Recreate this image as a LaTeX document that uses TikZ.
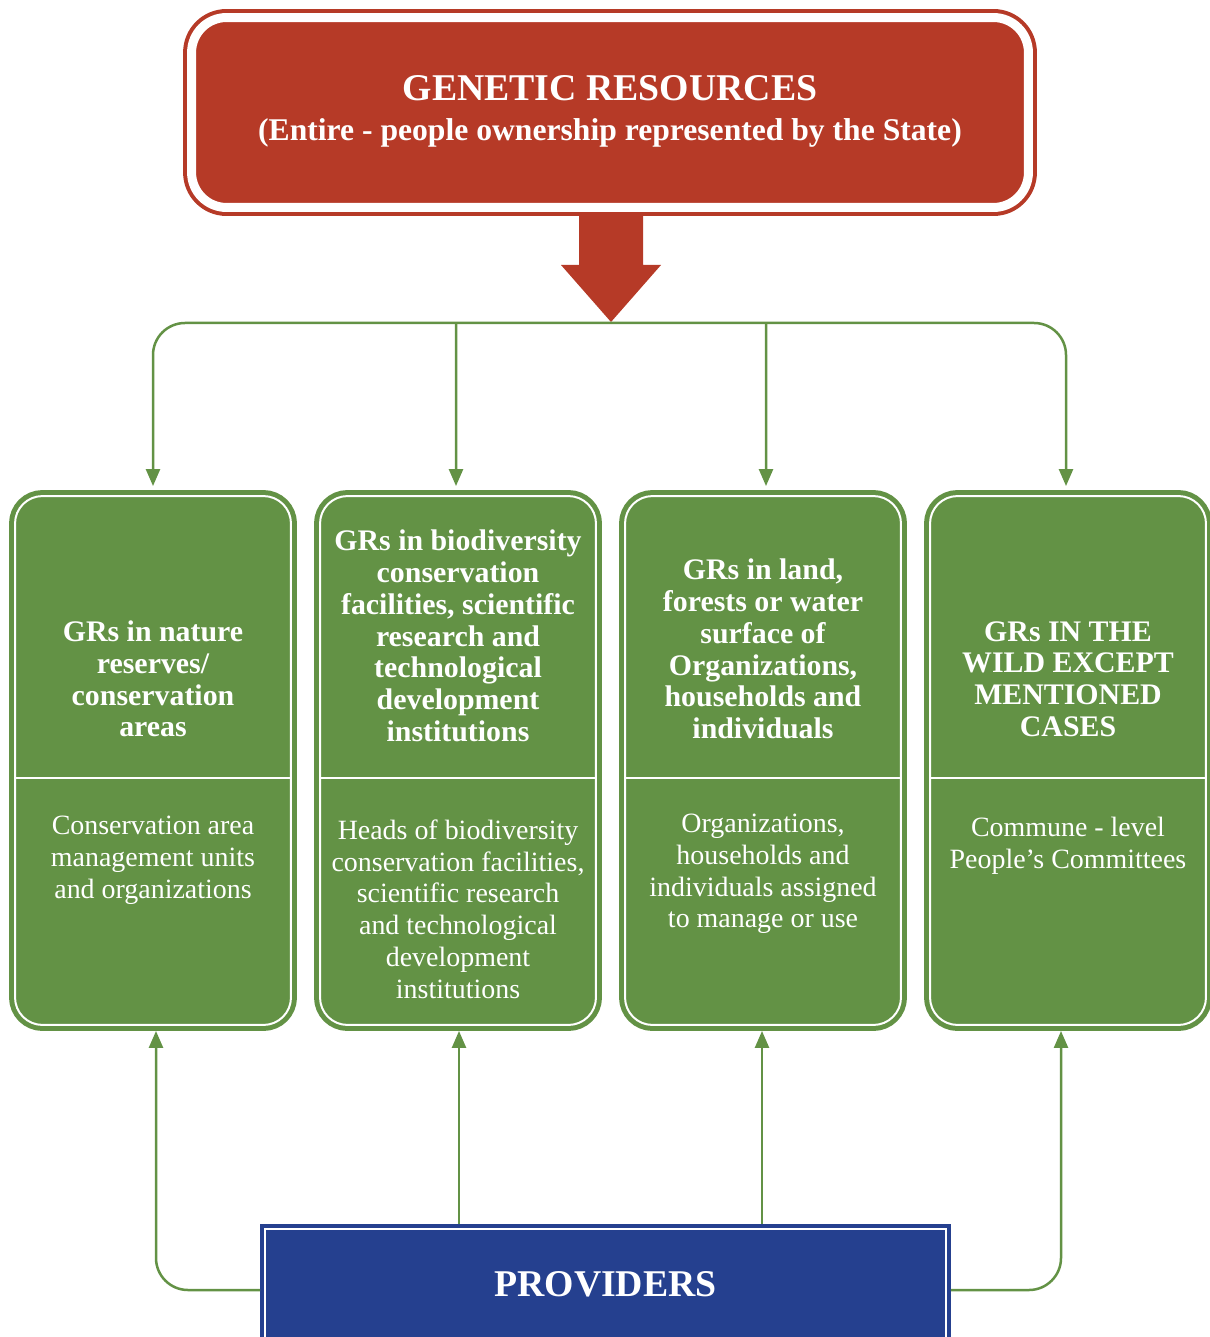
\documentclass[tikz,border=0pt]{standalone}
\usepackage{fontspec}
\setmainfont{Liberation Serif}
\usetikzlibrary{arrows.meta,calc}
\definecolor{grred}{RGB}{182,58,39}
\definecolor{grgreen}{RGB}{99,146,69}
\definecolor{grblue}{RGB}{37,64,143}

\begin{document}
\begin{tikzpicture}[x=0.02cm, y=-0.02cm,
rootbox/.style={fill=grred, draw=grred, line width=0.08cm, double=white, double distance=0.18cm, rounded corners=0.7cm, minimum width=16.74cm, minimum height=3.8cm, inner sep=0pt, outer sep=0pt},
holderbox/.style={fill=grgreen, draw=grgreen, line width=0.1cm, double=white, double distance=0.04cm, rounded corners=0.55cm, minimum width=5.52cm, minimum height=10.58cm, inner sep=0pt, outer sep=0pt},
providerbox/.style={fill=grblue, draw=grblue, line width=0.08cm, double=white, double distance=0.04cm, minimum width=13.62cm, minimum height=2.2cm, inner sep=0pt, outer sep=0pt, text=white, font=\fontsize{21.5}{24}\selectfont\bfseries},
titletext/.style={text=white, inner sep=0pt, font=\fontsize{21.5}{24}\selectfont\bfseries},
subtext/.style={text=white, inner sep=0pt, font=\fontsize{18}{20}\selectfont\bfseries},
headtext/.style={text=white, align=center, inner sep=0pt, font=\fontsize{17}{18.1}\selectfont\bfseries},
bodytext/.style={text=white, align=center, inner sep=0pt, font=\fontsize{15.9}{18.1}\selectfont},
link/.style={draw=grgreen, line width=0.05cm, rounded corners=0.64cm, -{Triangle[width=0.28cm, length=0.34cm]}},
divider/.style={draw=white, line width=0.04cm},
]
\useasboundingbox (0,0) rectangle (1209,1337);

\node[rootbox] (root) at (610,112.5) {};
\node[titletext] (title) at (610,88) {GENETIC RESOURCES};
\node[subtext] (subtitle) at (610,133) {(Entire - people ownership represented by the State)};
\fill[grred] (579,216) -- (643,216) -- (643,265) -- (661,265) -- (611,322) -- (561,265) -- (579,265) -- cycle;
\coordinate (hub) at (611,323);

\node[holderbox] (b1) at (153,760.5) {};
\node[holderbox] (b2) at (458,760.5) {};
\node[holderbox] (b3) at (763,760.5) {};
\node[holderbox] (b4) at (1068,760.5) {};
\foreach \b in {b1,b2,b3,b4}
  \draw[divider] (\b.west |- 0,778) -- (\b.east |- 0,778);

\node[headtext] (h1) at (153,679) {GRs in nature\\reserves/\\conservation\\areas};
\node[headtext] (h2) at (458,636) {GRs in biodiversity\\conservation\\facilities, scientific\\research and\\technological\\development\\institutions};
\node[headtext] (h3) at (763,649) {GRs in land,\\forests or water\\surface of\\Organizations,\\households and\\individuals};
\node[headtext] (h4) at (1068,679) {GRs IN THE\\WILD EXCEPT\\MENTIONED\\CASES};

\node[bodytext] (t1) at (153,860) {Conservation area\\management units\\and organizations};
\node[bodytext] (t2) at (458,909) {Heads of biodiversity\\conservation facilities,\\scientific research\\and technological\\development\\institutions};
\node[bodytext] (t3) at (763,874) {Organizations,\\households and\\individuals assigned\\to manage or use};
\node[bodytext] (t4) at (1068,846) {Commune - level\\People’s Committees};

\node[providerbox] (prov) at (605.5,1284) {PROVIDERS};

\draw[link, shorten >=0.2cm] (hub) -| (b1.north);
\draw[link, shorten >=0.2cm] ($(hub -| b2.north)+(-2,0)$) -- ([xshift=-0.04cm]b2.north);
\draw[link, shorten >=0.2cm] ($(hub -| b3.north)+(3,0)$) -- ([xshift=0.06cm]b3.north);
\draw[link, shorten >=0.2cm] (hub) -| ([xshift=-0.04cm]b4.north);

\draw[link, shorten >=0.12cm] ($(prov.west)+(-5,6)$) -| ([xshift=0.06cm]b1.south);
\draw[link, shorten >=0.12cm] ($(prov.north -| b2.south)+(1,-5)$) -- ([xshift=0.02cm]b2.south);
\draw[link, shorten >=0.12cm] ($(prov.north -| b3.south)+(-1,-5)$) -- ([xshift=-0.02cm]b3.south);
\draw[link, shorten >=0.12cm] ($(prov.east)+(5,6)$) -| ([xshift=-0.14cm]b4.south);

\end{tikzpicture}
\end{document}
